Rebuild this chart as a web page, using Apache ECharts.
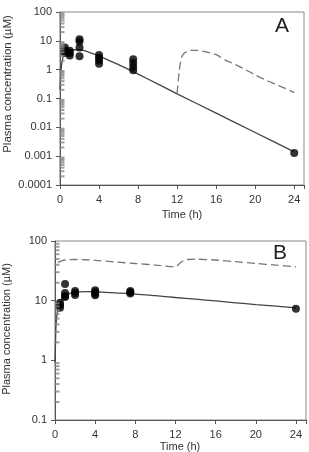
<!DOCTYPE html>
<html><head><meta charset="utf-8">
<script src="https://cdn.jsdelivr.net/npm/echarts@6/dist/echarts.min.js"></script>
<style>html,body{margin:0;padding:0;background:#fff}#c{width:309px;height:452px}</style>
</head><body><div id="c"></div>
<script>
// ---- Data ----
// Panel A observations
const obsA_t = [0.5,0.5,0.5, 1,1,1, 2,2,2,2, 4,4,4,4, 7.5,7.5,7.5,7.5, 24];
const obsA_c = [5.9,4.5,3.8, 4.5,3.8,3.1, 11.4,9.5,5.9,2.9, 3.2,2.6,2.1,1.6, 2.3,1.7,1.25,0.95, 0.0013];
// Panel A simulated single dose (solid)
const simA_t = [0,0.05,0.1,0.2,0.35,0.5,0.75,1,1.5,2,2.5,3,4,5,6,8,10,12,16,20,24];
const simA_c = [0.2,0.5,0.9,1.8,3.0,3.7,4.3,4.6,4.9,4.9,4.6,4.0,3.0,2.1,1.5,0.7,0.32,0.145,0.031,0.0066,0.0014];
// Panel A simulated second dose (dashed)
const dosA_t = [12,12.2,12.4,12.6,13,13.5,14,15,16,17,18,19,20,21,22,23,24];
const dosA_c = [0.15,0.8,2.2,3.3,4.3,4.7,4.7,4.1,3.3,2.1,1.5,1.0,0.66,0.45,0.32,0.23,0.16];
// Panel B observations
const obsB_t = [0.5,0.5,0.5, 1,1,1,1, 2,2,2, 4,4,4,4, 7.5,7.5,7.5, 24];
const obsB_c = [9.2,8.4,7.6, 19,13.5,12,11.5, 14.5,13.5,12.5, 15,14,13,12.3, 14.5,13.8,13.2, 7.3];
// Panel B simulated (solid)
const simB_t = [0,0.05,0.1,0.2,0.35,0.5,0.75,1,1.5,2,3,4,5,6,8,10,12,14,16,18,20,22,24];
const simB_c = [0.9,2.0,3.8,6.0,7.8,8.8,10.8,12,13.3,13.9,14.2,14.1,13.8,13.5,12.9,12.1,11.3,10.6,9.9,9.2,8.6,8.1,7.6];
// Panel B simulated (dashed)
const dosB_t = [0.3,0.6,1,2,3,4,6,8,10,12,12.4,12.8,13.2,14,16,18,20,22,24];
const dosB_c = [44,46,48,49,48.5,47.5,44.5,42,39.5,37,42,47,49,49.5,48,45,42,39.5,37];
// Axis ticks
const xTicks = [0,4,8,12,16,20,24];
const yTicksA = [0.0001,0.001,0.01,0.1,1,10,100];
const yTicksB = [0.1,1,10,100];
const panelLabels = ['A','B'];
const xTitle = 'Time (h)';
const yTitle = 'Plasma concentration (\u00b5M)';

const pairs = (t,c) => t.map((v,i)=>[v,c[i]]);
// minor log ticks (2..9 within each decade), drawn just inside the y axis
function minorVals(ticks){
  const out=[];
  for(let i=0;i<ticks.length-1;i++) for(let k=2;k<=9;k++) out.push([0.2, ticks[i]*k]);
  return out;
}
const FONT = '"Liberation Sans", Arial, sans-serif';
const TXT = '#333';
const AX = '#555';

function minorSeries(idx, ticks){
  return {
    type:'scatter', xAxisIndex:idx, yAxisIndex:idx, silent:true, z:20,
    data: minorVals(ticks),
    symbol:'rect', symbolSize:[5,2],
    itemStyle:{color:'#888'}
  };
}
function xAx(idx, margin){
  return {gridIndex:idx, type:'value', min:0, max:25, interval:4,
    axisLine:{show:true, lineStyle:{color:AX, width:1}},
    axisTick:{show:true, length:4, lineStyle:{color:AX}},
    axisLabel:{color:TXT, fontSize:11, fontFamily:FONT, margin:margin,
      formatter:v=> xTicks.includes(v) ? String(v) : ''},
    splitLine:{show:false}};
}
function yAx(idx, ticks, margin){
  return {gridIndex:idx, type:'log', logBase:10, min:ticks[0], max:ticks[ticks.length-1],
    splitNumber: ticks.length-1,
    axisLine:{show:true, lineStyle:{color:AX, width:1}},
    axisTick:{show:true, length:4, lineStyle:{color:AX}},
    axisLabel:{color:TXT, fontSize:11, fontFamily:FONT, margin:margin,
      formatter:v=>String(Number(Number(v).toPrecision(1)))},
    splitLine:{show:false}};
}
const chart = echarts.init(document.getElementById('c'), null, {renderer:'canvas'});
chart.setOption({
  animation:false,
  backgroundColor:'#fff',
  grid:[
    {left:60, top:12, width:244, height:173, show:true, borderColor:'#888', borderWidth:1, backgroundColor:'transparent'},
    {left:55, top:241, width:251, height:179, show:true, borderColor:'#888', borderWidth:1, backgroundColor:'transparent'}
  ],
  xAxis:[xAx(0,9), xAx(1,9)],
  yAxis:[yAx(0,yTicksA,8), yAx(1,yTicksB,8)],
  series:[
    {type:'line', xAxisIndex:0, yAxisIndex:0, data:pairs(simA_t,simA_c), showSymbol:false, smooth:0.3,
      lineStyle:{color:'#444', width:1.3}},
    {type:'line', xAxisIndex:0, yAxisIndex:0, data:pairs(dosA_t,dosA_c), showSymbol:false, smooth:0.3,
      lineStyle:{color:'#777', width:1.3, type:[8,4]}},
    {type:'scatter', xAxisIndex:0, yAxisIndex:0, data:pairs(obsA_t,obsA_c), symbolSize:8,
      itemStyle:{color:'#000'}, z:10},
    {type:'line', xAxisIndex:1, yAxisIndex:1, data:pairs(simB_t,simB_c), showSymbol:false, smooth:0.3,
      lineStyle:{color:'#444', width:1.3}},
    {type:'line', xAxisIndex:1, yAxisIndex:1, data:pairs(dosB_t,dosB_c), showSymbol:false, smooth:0.3,
      lineStyle:{color:'#777', width:1.3, type:[8,4]}},
    {type:'scatter', xAxisIndex:1, yAxisIndex:1, data:pairs(obsB_t,obsB_c), symbolSize:8,
      itemStyle:{color:'#000'}, z:10},
    minorSeries(0, yTicksA),
    minorSeries(1, yTicksB)
  ],
  graphic:[
    {type:'text', x:282, y:26, style:{text:panelLabels[0], font:'21px '+FONT, fill:'#222', textAlign:'center', textVerticalAlign:'middle'}},
    {type:'text', x:280, y:253, style:{text:panelLabels[1], font:'21px '+FONT, fill:'#222', textAlign:'center', textVerticalAlign:'middle'}},
    {type:'text', x:182, y:215, style:{text:xTitle, font:'11px '+FONT, fill:TXT, textAlign:'center', textVerticalAlign:'middle'}},
    {type:'text', x:180, y:447, style:{text:xTitle, font:'11px '+FONT, fill:TXT, textAlign:'center', textVerticalAlign:'middle'}},
    {type:'text', x:8, y:84, rotation:Math.PI/2, style:{text:yTitle, font:'11.5px '+FONT, fill:TXT, textAlign:'center', textVerticalAlign:'middle'}},
    {type:'text', x:7, y:329, rotation:Math.PI/2, style:{text:yTitle, font:'11px '+FONT, fill:TXT, textAlign:'center', textVerticalAlign:'middle'}}
  ]
});
</script></body></html>
